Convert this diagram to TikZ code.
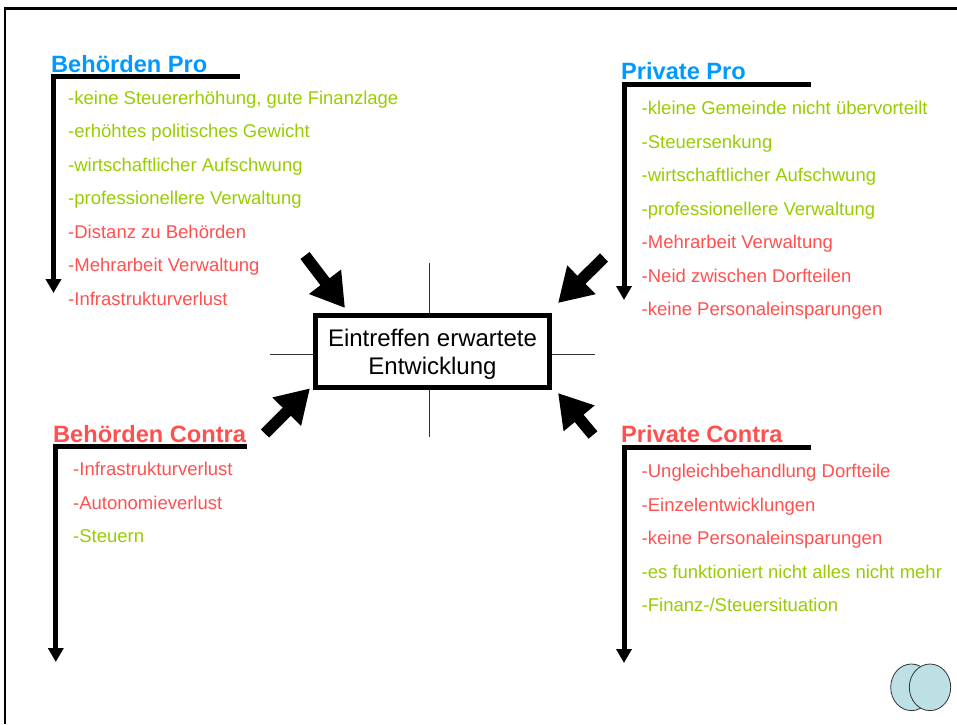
\documentclass[tikz,border=0pt]{standalone}
\usepackage{fontspec}
\setmainfont{Liberation Sans}
\usetikzlibrary{arrows.meta,shapes.geometric}
\definecolor{headblue}{RGB}{0,153,255}
\definecolor{progreen}{RGB}{153,204,0}
\definecolor{conred}{RGB}{255,80,80}
\definecolor{circfill}{RGB}{189,224,228}
\begin{document}
\begin{tikzpicture}[x=1pt,y=-1pt,
  heading/.style={anchor=base west, inner sep=0pt, font=\fontsize{23.6}{28}\selectfont\bfseries},
  item/.style={anchor=base west, inner sep=0pt, font=\fontsize{18.5}{22}\selectfont},
  pro/.style={item, text=progreen},
  con/.style={item, text=conred},
  lshape/.style={line width=5pt, line join=miter, -{Triangle[length=14pt,width=15pt]}},
  blockarrow/.style={line width=11.5pt, -{Triangle[length=33pt,width=38pt]}},
  crossline/.style={line width=1pt, draw=black!80},
  circ/.style={ellipse, draw=black!80, line width=0.8pt, fill=circfill, minimum width=41.4pt, minimum height=46.6pt, inner sep=0pt}]
\useasboundingbox (0,0) rectangle (957,724);
% frame
\draw[line width=2.5pt] (5,724) -- (5,8.5) -- (957,8.5);

% centre box
\node[draw, line width=5pt, minimum width=234pt, minimum height=72pt, inner sep=0pt] (box) at (432.5,351.5) {};
\node[align=center, inner sep=0pt, font=\fontsize{24}{28}\selectfont, yshift=-2.5pt] (boxtext) at (box.center)
      {Eintreffen erwartete\\Entwicklung};

% cross lines
\coordinate (vt) at (429,263);
\coordinate (vb) at (429,437);
\coordinate (hl) at (270,354);
\coordinate (hr) at (595,354);
\draw[crossline] (vt) -- (vt |- box.north);
\draw[crossline] (vb |- box.south) -- (vb);
\draw[crossline] (hl) -- (hl -| box.west);
\draw[crossline] (box.east |- hr) -- (hr);

% block arrows
\coordinate (tlA) at (305,255.5);  \coordinate (tlB) at (345,308);
\coordinate (trA) at (604,257.5);  \coordinate (trB) at (558,303);
\coordinate (blA) at (265,433.5);  \coordinate (blB) at (310,388.3);
\coordinate (brA) at (593,435);    \coordinate (brB) at (558,393);
\draw[blockarrow] (tlA) -- (tlB);
\draw[blockarrow] (trA) -- (trB);
\draw[blockarrow] (blA) -- (blB);
\draw[blockarrow] (brA) -- (brB);

% Behoerden Pro
\node[heading, text=headblue] (bph) at (51,72.7) {Behörden Pro};
\coordinate (bp1) at (240,76); \coordinate (bp2) at (53.5,76); \coordinate (bp3) at (53.5,293);
\draw[lshape] (bp1) -- (bp2) -- (bp3);
\node[pro] (bpi1) at (68,104.3) {-keine Steuererhöhung, gute Finanzlage};
\node[pro] (bpi2) at (68,137.7) {-erhöhtes politisches Gewicht};
\node[pro] (bpi3) at (68,171.2) {-wirtschaftlicher Aufschwung};
\node[pro] (bpi4) at (68,204.6) {-professionellere Verwaltung};
\node[con] (bpi5) at (68,238.1) {-Distanz zu Behörden};
\node[con] (bpi6) at (68,271.5) {-Mehrarbeit Verwaltung};
\node[con] (bpi7) at (68,305) {-Infrastrukturverlust};

% Private Pro
\node[heading, text=headblue] (pph) at (621,79.3) {Private Pro};
\coordinate (pp1) at (810.7,84); \coordinate (pp2) at (624,84); \coordinate (pp3) at (624,300);
\draw[lshape] (pp1) -- (pp2) -- (pp3);
\node[pro] (ppi1) at (641.5,114.5) {-kleine Gemeinde nicht übervorteilt};
\node[pro] (ppi2) at (641.5,148) {-Steuersenkung};
\node[pro] (ppi3) at (641.5,181.5) {-wirtschaftlicher Aufschwung};
\node[pro] (ppi4) at (641.5,215) {-professionellere Verwaltung};
\node[con] (ppi5) at (641.5,248.5) {-Mehrarbeit Verwaltung};
\node[con] (ppi6) at (641.5,282) {-Neid zwischen Dorfteilen};
\node[con] (ppi7) at (641.5,315.5) {-keine Personaleinsparungen};

% Behoerden Contra
\node[heading, text=conred] (bch) at (53,442.7) {Behörden Contra};
\coordinate (bc1) at (247,446.5); \coordinate (bc2) at (55.8,446.5); \coordinate (bc3) at (55.8,662);
\draw[lshape] (bc1) -- (bc2) -- (bc3);
\node[con] (bci1) at (73,475.7) {-Infrastrukturverlust};
\node[con] (bci2) at (73,509.2) {-Autonomieverlust};
\node[pro] (bci3) at (73,542.7) {-Steuern};

% Private Contra
\node[heading, text=conred] (pch) at (621,442.7) {Private Contra};
\coordinate (pc1) at (811,447); \coordinate (pc2) at (624,447); \coordinate (pc3) at (624,663);
\draw[lshape] (pc1) -- (pc2) -- (pc3);
\node[con] (pci1) at (641.5,477.7) {-Ungleichbehandlung Dorfteile};
\node[con] (pci2) at (641.5,511.2) {-Einzelentwicklungen};
\node[con] (pci3) at (641.5,544.7) {-keine Personaleinsparungen};
\node[pro] (pci4) at (641.5,578.2) {-es funktioniert nicht alles nicht mehr};
\node[pro] (pci5) at (641.5,611.7) {-Finanz-/Steuersituation};

% logo circles
\node[circ] (c1) at (911.4,687.3) {};
\node[circ] (c2) at (930,687.3) {};
\end{tikzpicture}
\end{document}
